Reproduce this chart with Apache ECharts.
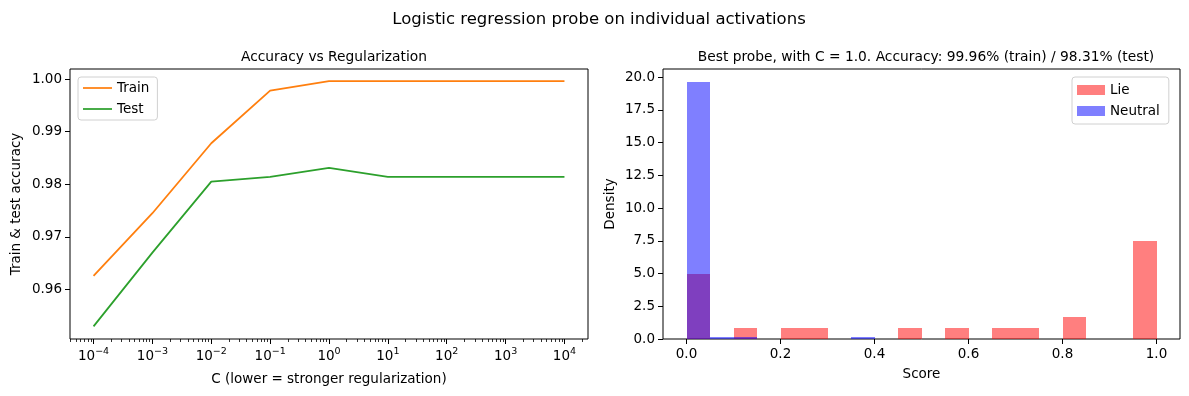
<!DOCTYPE html>
<html>
<head>
<meta charset="utf-8">
<script src="https://cdn.jsdelivr.net/npm/echarts@6.0.0/dist/echarts.min.js"></script>
<style>
  html, body { margin: 0; padding: 0; background: #fff; }
  #probeChart { width: 1189px; height: 396px; }
</style>
</head>
<body>
<div id="probeChart"></div>
<script>
const probeChart = echarts.init(document.getElementById('probeChart'));

// accuracy vs C (C given as powers of ten)
const cExponents = [-4, -3, -2, -1, 0, 1, 2, 3, 4];
const trainAcc = [0.9626, 0.9745, 0.9878, 0.9978, 0.9996, 0.9996, 0.9996, 0.9996, 0.9996];
const testAcc = [0.9530, 0.9670, 0.9805, 0.9814, 0.9831, 0.9814, 0.9814, 0.9814, 0.9814];
const accTicks = [0.96, 0.97, 0.98, 0.99, 1.00];

// histogram of probe scores, 20 bins of width 0.05 on [0, 1]
const binStart = 0;
const binWidth = 0.05;
const lieDensity = [5.0, 0, 0.833, 0, 0.833, 0.833, 0, 0, 0, 0.833, 0, 0.833, 0, 0.833, 0.833, 0, 1.667, 0, 0, 7.5];
const neutralDensity = [19.6, 0.133, 0.133, 0, 0, 0, 0, 0.133, 0, 0, 0, 0, 0, 0, 0, 0, 0, 0, 0, 0];
const scoreTicks = [0, 0.2, 0.4, 0.6, 0.8, 1.0];
const densityTicks = [0, 2.5, 5, 7.5, 10, 12.5, 15, 17.5, 20];

const FONT = 'DejaVu Sans';
const LINE_ICON = 'path://M0,0 L30,0 L30,1.8 L0,1.8 Z';

// minor ticks of a log axis, 2..9 x 10^d
function minorTicks(lo, hi) {
    let ticks = [];
    for (let d = -5; d <= 4; d++) {
        for (let k = 2; k <= 9; k++) {
            let v = d + Math.log10(k);
            if (v >= lo && v <= hi) ticks.push(v);
        }
    }
    return ticks;
}

function histBars(density) {
    return density.map((h, i) => [binStart + i * binWidth, binStart + (i + 1) * binWidth, h]);
}

function histSeries(name, color, density) {
    return {
        name: name,
        type: 'custom',
        xAxisIndex: 2,
        yAxisIndex: 1,
        itemStyle: { color: color },
        renderItem: (params, api) => {
            let h = api.value(2);
            if (!h) return null;
            let p0 = api.coord([api.value(0), h]);
            let p1 = api.coord([api.value(1), 0]);
            // snap to whole pixels so neighbouring bins meet without a seam
            let x0 = Math.round(p0[0]), x1 = Math.round(p1[0]);
            let y0 = Math.round(p0[1]), y1 = Math.round(p1[1]);
            if (y1 - y0 < 1) y0 = y1 - 1;
            return {
                type: 'rect',
                shape: { x: x0, y: y0, width: x1 - x0, height: y1 - y0 },
                style: { fill: color }
            };
        },
        encode: { x: [0, 1], y: 2 },
        data: histBars(density)
    };
}

const tickStyle = { color: '#000', fontFamily: FONT, fontSize: 13.5 };
const nameStyle = { fontFamily: FONT, fontSize: 13.5, color: '#000' };
const noLine = { show: false, onZero: false };

let option = {
    animation: false,
    textStyle: { fontFamily: FONT, color: '#000' },
    title: [
        { text: 'Logistic regression probe on individual activations', left: 594, top: 6, textAlign: 'center',
          textStyle: { fontFamily: FONT, fontWeight: 'normal', fontSize: 16.5, color: '#000' } },
        { text: 'Accuracy vs Regularization', left: 329, top: 45, textAlign: 'center',
          textStyle: { fontFamily: FONT, fontWeight: 'normal', fontSize: 13.8, color: '#000' } },
        { text: 'Best probe, with C = 1.0. Accuracy: 99.96% (train) / 98.31% (test)', left: 921, top: 45, textAlign: 'center',
          textStyle: { fontFamily: FONT, fontWeight: 'normal', fontSize: 13.8, color: '#000' } }
    ],
    grid: [
        { left: 70, top: 69, width: 518, height: 270, show: true, borderColor: '#000', borderWidth: 1, backgroundColor: 'transparent' },
        { left: 663, top: 69, width: 517, height: 270, show: true, borderColor: '#000', borderWidth: 1, backgroundColor: 'transparent' }
    ],
    legend: [
        {
            data: [{ name: 'Train', icon: LINE_ICON }, { name: 'Test', icon: LINE_ICON }],
            orient: 'vertical', left: 78, top: 77,
            itemWidth: 29, itemHeight: 14, itemGap: 7,
            padding: [4, 8, 4, 5],
            borderColor: '#d0d0d0', borderWidth: 1, borderRadius: 3,
            textStyle: { fontFamily: FONT, fontSize: 13.5, color: '#000' }
        },
        {
            data: [{ name: 'Lie', icon: 'rect' }, { name: 'Neutral', icon: 'rect' }],
            orient: 'vertical', left: 1072, top: 77,
            itemWidth: 28, itemHeight: 10, itemGap: 7,
            padding: [6, 9, 6, 5],
            borderColor: '#d0d0d0', borderWidth: 1, borderRadius: 3,
            textStyle: { fontFamily: FONT, fontSize: 13.5, color: '#000', lineHeight: 12 }
        }
    ],
    xAxis: [
        {
            type: 'value', gridIndex: 0, position: 'bottom', min: -4.4, max: 4.4,
            name: 'C (lower = stronger regularization)', nameLocation: 'middle', nameGap: 33,
            nameTextStyle: nameStyle,
            axisLine: noLine,
            splitLine: { show: false },
            axisTick: { show: true, length: 5, customValues: cExponents, lineStyle: { color: '#000' } },
            axisLabel: {
                customValues: cExponents, margin: 8,
                formatter: (val) => '{b|10}{s|' + (val < 0 ? '\u2212' + (-val) : val) + '}',
                rich: {
                    b: { fontFamily: FONT, fontSize: 13.5, color: '#000', lineHeight: 16, verticalAlign: 'bottom' },
                    s: { fontFamily: FONT, fontSize: 9.5, color: '#000', lineHeight: 16, verticalAlign: 'top', padding: [0, 0, 6, 0] }
                }
            }
        },
        {
            type: 'value', gridIndex: 0, position: 'bottom', min: -4.4, max: 4.4,
            axisLine: noLine,
            splitLine: { show: false },
            axisLabel: { show: false },
            axisTick: { show: true, length: 3, customValues: minorTicks(-4.4, 4.4), lineStyle: { color: '#000', width: 0.8 } }
        },
        {
            type: 'value', gridIndex: 1, position: 'bottom', min: -0.05, max: 1.05,
            name: 'Score', nameLocation: 'middle', nameGap: 28,
            nameTextStyle: nameStyle,
            axisLine: noLine,
            splitLine: { show: false },
            axisTick: { show: true, length: 5, customValues: scoreTicks, lineStyle: { color: '#000' } },
            axisLabel: { customValues: scoreTicks, margin: 8, formatter: (val) => val.toFixed(1), ...tickStyle }
        }
    ],
    yAxis: [
        {
            type: 'value', gridIndex: 0, position: 'left', min: 0.9506, max: 1.0019,
            name: 'Train & test accuracy', nameLocation: 'middle', nameGap: 47,
            nameTextStyle: nameStyle,
            axisLine: noLine,
            splitLine: { show: false },
            axisTick: { show: true, length: 5, customValues: accTicks, lineStyle: { color: '#000' } },
            axisLabel: { customValues: accTicks, margin: 8, formatter: (val) => val.toFixed(2), ...tickStyle }
        },
        {
            type: 'value', gridIndex: 1, position: 'left', min: 0, max: 20.63,
            name: 'Density', nameLocation: 'middle', nameGap: 46,
            nameTextStyle: nameStyle,
            axisLine: noLine,
            splitLine: { show: false },
            axisTick: { show: true, length: 5, customValues: densityTicks, lineStyle: { color: '#000' } },
            axisLabel: { customValues: densityTicks, margin: 8, formatter: (val) => val.toFixed(1), ...tickStyle }
        }
    ],
    series: [
        {
            name: 'Train', type: 'line', xAxisIndex: 0, yAxisIndex: 0,
            symbol: 'none', color: '#ff7f0e', lineStyle: { width: 1.8 },
            data: cExponents.map((c, i) => [c, trainAcc[i]])
        },
        {
            name: 'Test', type: 'line', xAxisIndex: 0, yAxisIndex: 0,
            symbol: 'none', color: '#2ca02c', lineStyle: { width: 1.8 },
            data: cExponents.map((c, i) => [c, testAcc[i]])
        },
        histSeries('Lie', 'rgba(255, 0, 0, 0.5)', lieDensity),
        histSeries('Neutral', 'rgba(0, 0, 255, 0.5)', neutralDensity)
    ]
};

probeChart.setOption(option);
</script>
</body>
</html>
